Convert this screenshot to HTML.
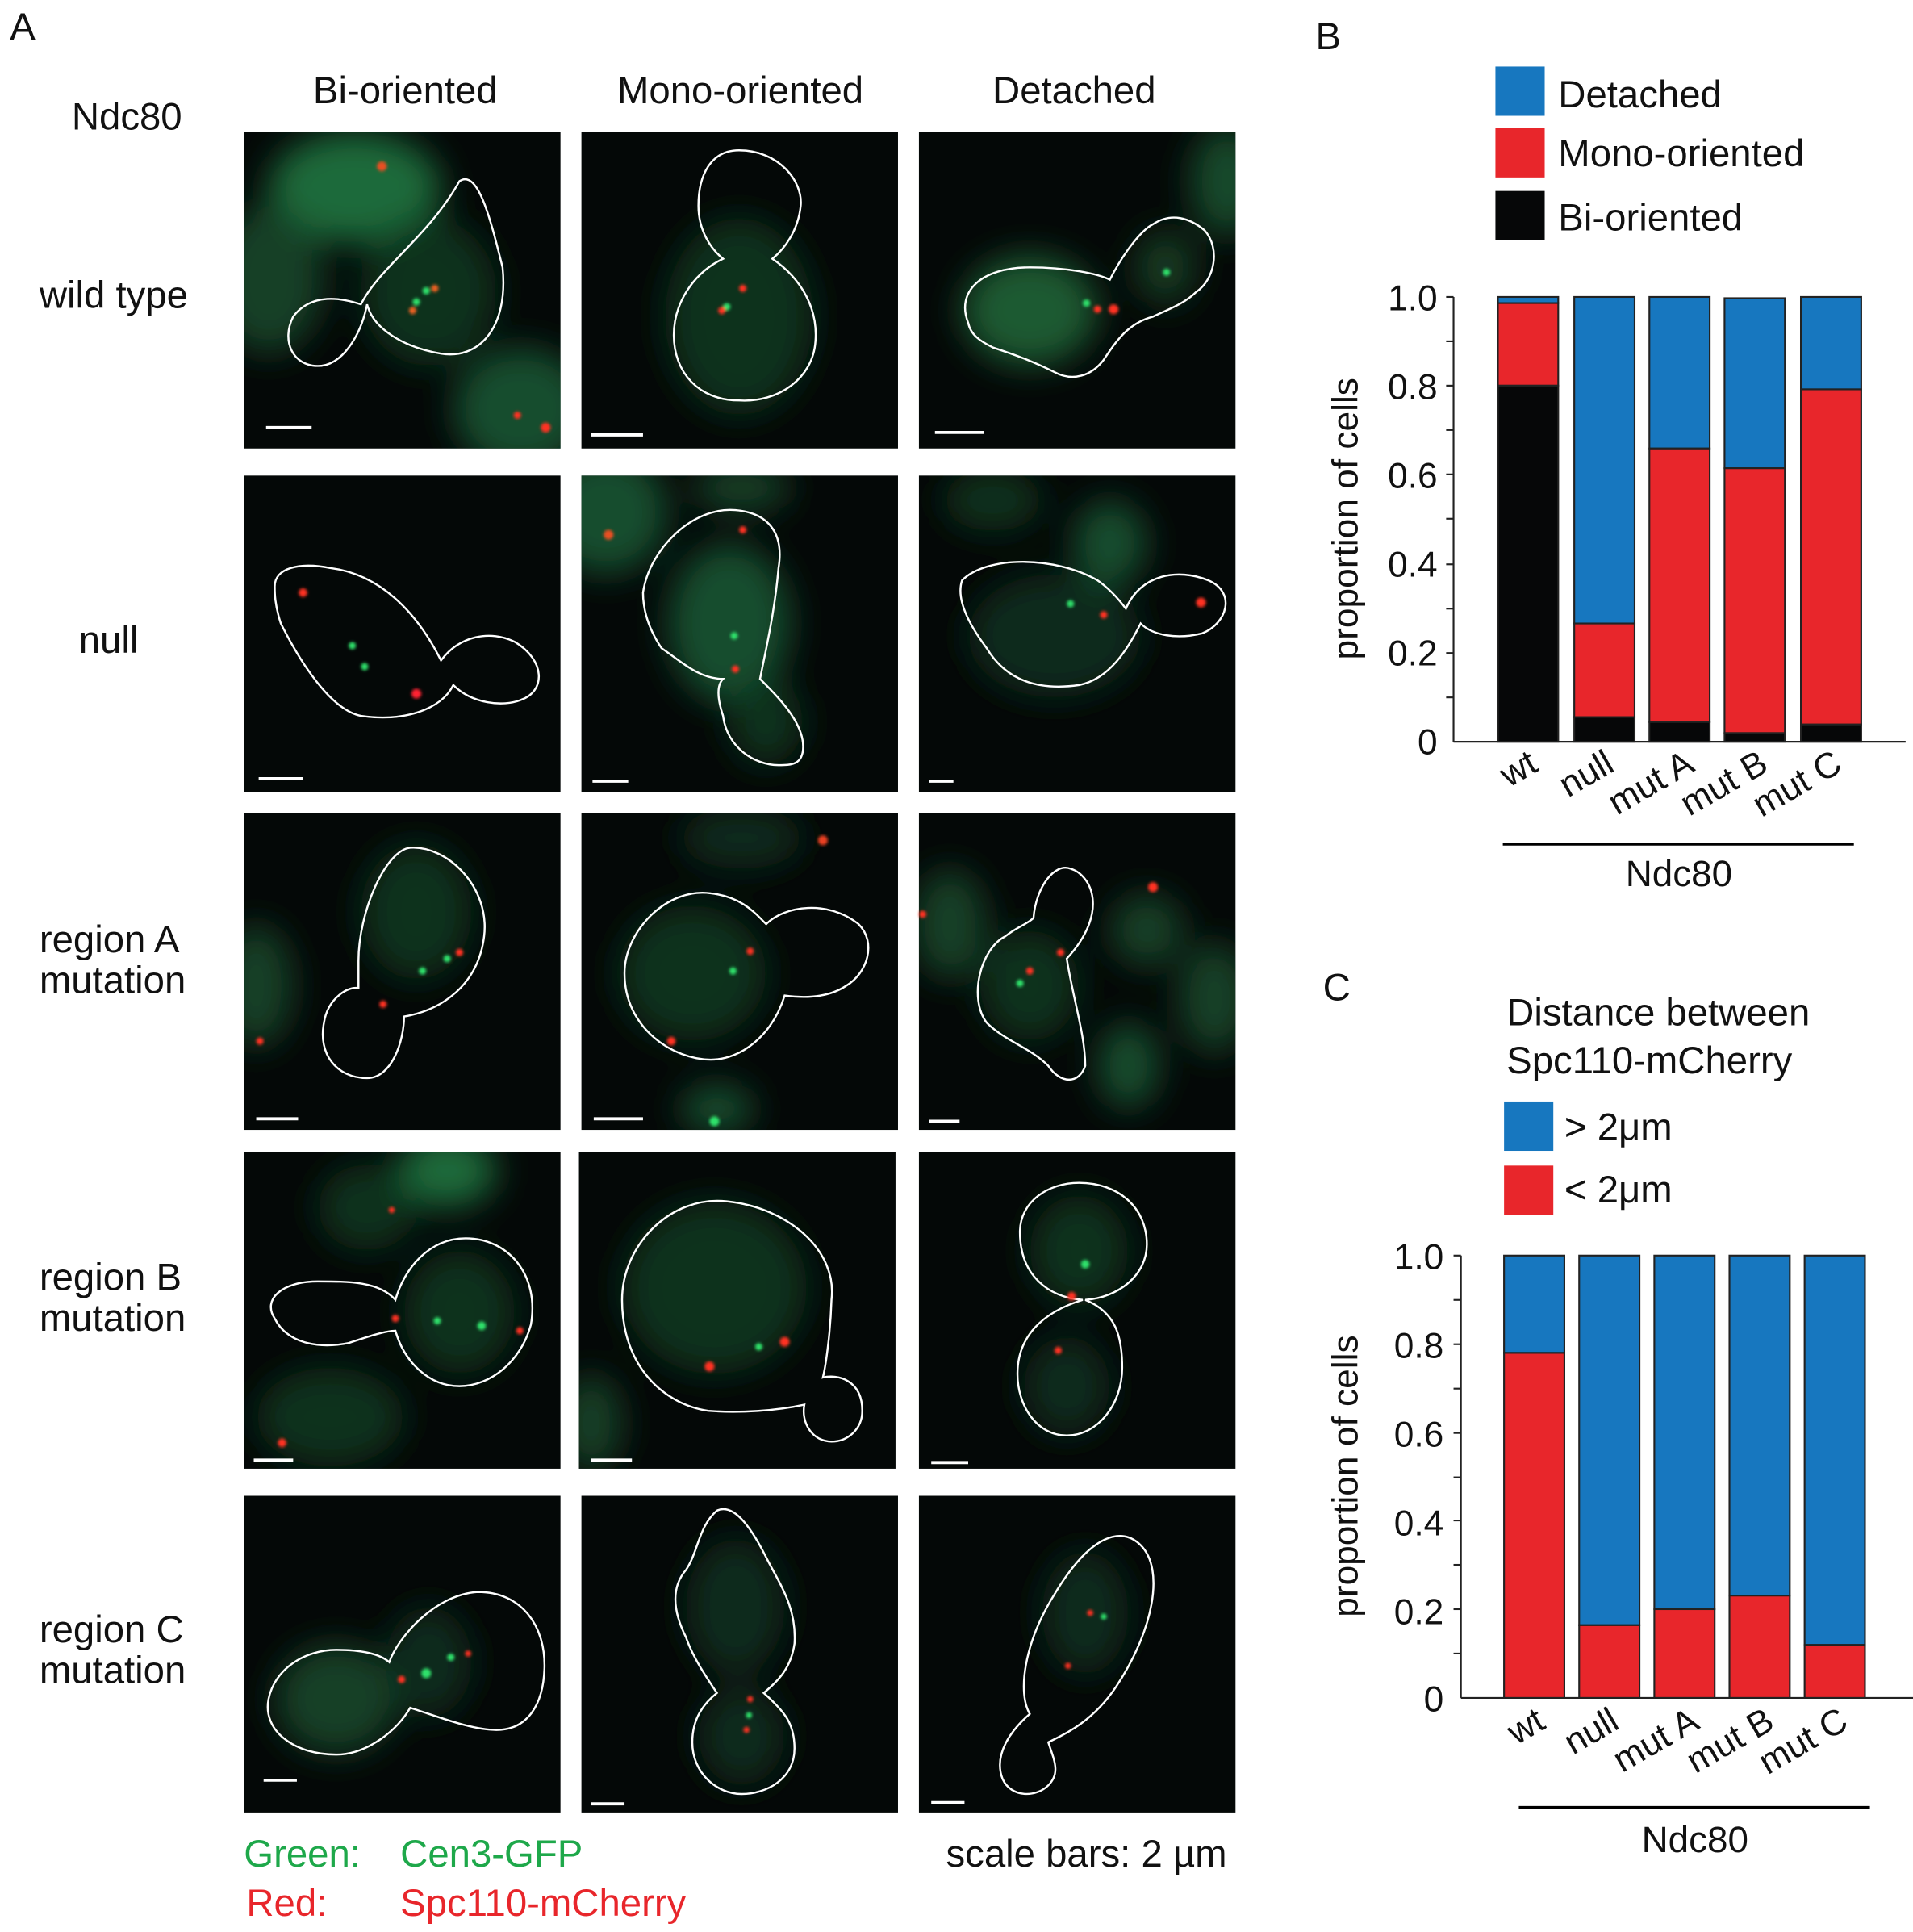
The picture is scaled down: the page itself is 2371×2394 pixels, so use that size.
<!DOCTYPE html>
<html><head><meta charset="utf-8"><style>
html,body{margin:0;padding:0;background:#fff;}
svg{display:block;}
text{font-family:"Liberation Sans",Arial,sans-serif;}
</style></head><body>
<svg width="2371" height="2394" viewBox="0 0 1553 1568" preserveAspectRatio="none" xmlns="http://www.w3.org/2000/svg">
<defs>
<filter id="b" x="-50%" y="-50%" width="200%" height="200%"><feGaussianBlur stdDeviation="14"/></filter>
<filter id="d" x="-100%" y="-100%" width="300%" height="300%"><feGaussianBlur stdDeviation="1.2"/></filter>
<clipPath id="c"><rect width="257" height="257"/></clipPath>
</defs>
<rect width="1553" height="1568" fill="#fff"/>
<g font-size="31" fill="#111">
<text x="8" y="32">A</text>
<text x="329" y="84" text-anchor="middle">Bi-oriented</text>
<text x="601" y="84" text-anchor="middle">Mono-oriented</text>
<text x="872" y="84" text-anchor="middle">Detached</text>
<text x="103" y="105" text-anchor="middle">Ndc80</text>
<text x="32" y="250">wild type</text>
<text x="64" y="530">null</text>
<text x="32" y="773">region A</text><text x="32" y="806">mutation</text>
<text x="32" y="1047">region B</text><text x="32" y="1080">mutation</text>
<text x="32" y="1333">region C</text><text x="32" y="1366">mutation</text>
<text x="198" y="1515" fill="#1ea84a">Green:</text>
<text x="325" y="1515" fill="#1ea84a">Cen3-GFP</text>
<text x="200" y="1555" fill="#e8262b">Red:</text>
<text x="325" y="1555" fill="#e8262b">Spc110-mCherry</text>
<text x="768" y="1515">scale bars: 2 µm</text>
</g>
<g fill="none" stroke="#fff" stroke-width="1.6">
<!-- Row1 -->
<g transform="translate(198,107)"><rect width="257" height="257" fill="#040807" stroke="none"/>
<g clip-path="url(#c)"><g filter="url(#b)" stroke="none"><ellipse cx="90" cy="45" rx="70" ry="45" fill="#1f6a3a"/><ellipse cx="20" cy="120" rx="45" ry="60" fill="#143f26"/><ellipse cx="225" cy="225" rx="55" ry="50" fill="#174d2d"/><ellipse cx="150" cy="130" rx="55" ry="60" fill="#10301d"/></g></g>
<path d="M95,140 C110,110 150,85 175,40 C190,30 200,70 210,110 C215,160 190,185 160,180 C130,175 105,160 100,140 C95,165 80,190 60,190 C40,190 30,170 40,150 C55,130 80,135 95,140Z"/>
<g stroke="none" filter="url(#d)"><circle cx="112" cy="28" r="4" fill="#e85020"/><circle cx="148" cy="129" r="3" fill="#2ee06a"/><circle cx="140" cy="138" r="3" fill="#2ee06a"/><circle cx="155" cy="127" r="3" fill="#e86020"/><circle cx="137" cy="145" r="3" fill="#e86020"/><circle cx="245" cy="240" r="4" fill="#ff3020"/><circle cx="222" cy="230" r="3" fill="#ff3020"/></g>
<line x1="18" y1="240" x2="55" y2="240" stroke-width="2.5"/></g>
<g transform="translate(472,107)"><rect width="257" height="257" fill="#040807" stroke="none"/>
<g clip-path="url(#c)"><g filter="url(#b)" stroke="none"><ellipse cx="128" cy="150" rx="60" ry="80" fill="#10301d"/></g></g>
<path d="M128,15 C160,15 180,40 178,60 C176,80 165,95 155,103 C180,120 192,145 190,170 C188,200 160,220 128,218 C95,218 75,195 75,165 C75,140 90,115 115,103 C105,95 95,80 95,60 C95,35 105,15 128,15Z"/>
<g stroke="none" filter="url(#d)"><circle cx="131" cy="127" r="3" fill="#ff3020"/><circle cx="118" cy="142" r="3" fill="#2ee06a"/><circle cx="114" cy="145" r="3" fill="#ff3020"/></g>
<line x1="8" y1="246" x2="50" y2="246" stroke-width="2.5"/></g>
<g transform="translate(746,107)"><rect width="257" height="257" fill="#040807" stroke="none"/>
<g clip-path="url(#c)"><g filter="url(#b)" stroke="none"><ellipse cx="90" cy="145" rx="55" ry="45" fill="#1a5a33"/><ellipse cx="250" cy="40" rx="30" ry="45" fill="#154a2a"/><ellipse cx="200" cy="110" rx="25" ry="30" fill="#123a22"/></g></g>
<path d="M40,155 C30,130 50,110 90,110 C120,110 145,115 155,120 C165,100 180,80 190,75 C205,65 220,70 232,80 C245,95 240,120 225,130 C215,140 200,145 190,150 C170,155 160,170 150,185 C140,198 125,203 110,195 C90,185 75,180 60,175 C50,170 42,165 40,155Z"/>
<g stroke="none" filter="url(#d)"><circle cx="201" cy="114" r="3" fill="#2ee06a"/><circle cx="136" cy="139" r="3" fill="#2ee06a"/><circle cx="145" cy="144" r="3" fill="#ff3020"/><circle cx="158" cy="144" r="4" fill="#ff3020"/></g>
<line x1="13" y1="244" x2="53" y2="244" stroke-width="2.5"/></g>
<!-- Row2 -->
<g transform="translate(198,386)"><rect width="257" height="257" fill="#040807" stroke="none"/>
<path d="M25,90 C25,75 45,70 70,75 C110,80 140,110 160,150 C175,130 200,125 220,135 C245,150 245,175 225,182 C210,188 185,185 170,170 C160,190 130,200 95,195 C70,190 45,150 30,120 C25,105 25,95 25,90Z"/>
<g stroke="none" filter="url(#d)"><circle cx="48" cy="95" r="3.5" fill="#ff3020"/><circle cx="88" cy="138" r="3" fill="#2ee06a"/><circle cx="98" cy="155" r="3" fill="#2ee06a"/><circle cx="140" cy="177" r="4" fill="#ff2030"/></g>
<line x1="12" y1="246" x2="48" y2="246" stroke-width="2.5"/></g>
<g transform="translate(472,386)"><rect width="257" height="257" fill="#040807" stroke="none"/>
<g clip-path="url(#c)"><g filter="url(#b)" stroke="none"><ellipse cx="20" cy="30" rx="50" ry="50" fill="#174d2d"/><ellipse cx="120" cy="120" rx="50" ry="65" fill="#174d2d"/><ellipse cx="150" cy="200" rx="30" ry="35" fill="#10301d"/><ellipse cx="130" cy="10" rx="40" ry="20" fill="#143f26"/></g></g>
<path d="M50,95 C55,60 90,25 125,28 C150,30 165,45 160,75 C157,110 150,140 145,165 C160,180 180,200 180,220 C180,235 170,235 160,235 C140,235 118,220 115,195 C110,180 110,170 115,165 C95,165 80,150 65,140 C55,125 50,110 50,95Z"/>
<g stroke="none" filter="url(#d)"><circle cx="22" cy="48" r="4" fill="#e85020"/><circle cx="131" cy="44" r="3" fill="#ff3020"/><circle cx="124" cy="130" r="3" fill="#2ee06a"/><circle cx="125" cy="157" r="3" fill="#ff3020"/></g>
<line x1="9" y1="248" x2="38" y2="248" stroke-width="2.5"/></g>
<g transform="translate(746,386)"><rect width="257" height="257" fill="#040807" stroke="none"/>
<g clip-path="url(#c)"><g filter="url(#b)" stroke="none"><ellipse cx="155" cy="55" rx="30" ry="35" fill="#174d2d"/><ellipse cx="60" cy="20" rx="40" ry="25" fill="#10301d"/><ellipse cx="110" cy="130" rx="70" ry="50" fill="#0e2a1a"/></g></g>
<path d="M35,85 C55,65 110,65 145,85 C155,92 162,100 168,108 C180,80 210,75 235,85 C258,95 250,120 230,128 C210,133 190,130 180,120 C170,140 155,165 130,170 C95,175 70,165 55,140 C40,120 30,100 35,85Z"/>
<g stroke="none" filter="url(#d)"><circle cx="123" cy="104" r="3" fill="#2ee06a"/><circle cx="150" cy="113" r="3" fill="#ff3020"/><circle cx="229" cy="103" r="4" fill="#ff3020"/></g>
<line x1="8" y1="248" x2="28" y2="248" stroke-width="2.5"/></g>
<!-- Row3 -->
<g transform="translate(198,660)"><rect width="257" height="257" fill="#040807" stroke="none"/>
<g clip-path="url(#c)"><g filter="url(#b)" stroke="none"><ellipse cx="10" cy="140" rx="30" ry="50" fill="#143f26"/><ellipse cx="140" cy="80" rx="45" ry="55" fill="#10301d"/></g></g>
<path d="M93,120 C93,80 115,30 135,28 C165,26 200,60 195,100 C190,140 160,160 130,165 C130,185 120,215 100,215 C75,215 60,195 65,170 C68,150 85,140 93,142Z"/>
<g stroke="none" filter="url(#d)"><circle cx="175" cy="113" r="3" fill="#ff3020"/><circle cx="165" cy="118" r="3" fill="#2ee06a"/><circle cx="145" cy="128" r="3" fill="#2ee06a"/><circle cx="113" cy="155" r="3" fill="#ff3020"/><circle cx="13" cy="185" r="3" fill="#ff3020"/></g>
<line x1="10" y1="248" x2="44" y2="248" stroke-width="2.5"/></g>
<g transform="translate(472,660)"><rect width="257" height="257" fill="#040807" stroke="none"/>
<g clip-path="url(#c)"><g filter="url(#b)" stroke="none"><ellipse cx="90" cy="130" rx="60" ry="55" fill="#10301d"/><ellipse cx="110" cy="240" rx="30" ry="20" fill="#174d2d"/><ellipse cx="130" cy="20" rx="50" ry="25" fill="#0e2a1a"/></g></g>
<path d="M35,130 C35,95 70,60 105,65 C130,68 140,80 150,90 C165,75 200,70 225,90 C240,105 232,130 215,140 C200,150 180,150 165,148 C155,180 130,200 105,200 C75,200 35,175 35,130Z"/>
<g stroke="none" filter="url(#d)"><circle cx="196" cy="22" r="4" fill="#e84020"/><circle cx="137" cy="112" r="3" fill="#ff3020"/><circle cx="123" cy="128" r="3" fill="#2ee06a"/><circle cx="73" cy="185" r="3.5" fill="#ff3020"/><circle cx="108" cy="250" r="4" fill="#2ee06a"/></g>
<line x1="10" y1="248" x2="50" y2="248" stroke-width="2.5"/></g>
<g transform="translate(746,660)"><rect width="257" height="257" fill="#040807" stroke="none"/>
<g clip-path="url(#c)"><g filter="url(#b)" stroke="none"><ellipse cx="25" cy="90" rx="30" ry="45" fill="#143f26"/><ellipse cx="185" cy="95" rx="30" ry="30" fill="#143f26"/><ellipse cx="240" cy="150" rx="30" ry="45" fill="#143f26"/><ellipse cx="170" cy="205" rx="25" ry="35" fill="#174d2d"/><ellipse cx="90" cy="140" rx="40" ry="45" fill="#10301d"/></g></g>
<path d="M93,85 C95,60 110,40 123,45 C140,50 155,80 120,118 C125,150 135,180 135,205 C130,220 115,220 105,205 C90,190 70,185 55,170 C40,150 50,110 70,100 C80,92 88,90 93,85Z"/>
<g stroke="none" filter="url(#d)"><circle cx="190" cy="60" r="4" fill="#ff3020"/><circle cx="115" cy="113" r="3" fill="#ff3020"/><circle cx="90" cy="128" r="3" fill="#ff3020"/><circle cx="82" cy="138" r="3" fill="#2ee06a"/><circle cx="3" cy="82" r="3" fill="#ff3020"/></g>
<line x1="8" y1="250" x2="33" y2="250" stroke-width="2.5"/></g>
<!-- Row4 -->
<g transform="translate(198,935)"><rect width="257" height="257" fill="#040807" stroke="none"/>
<g clip-path="url(#c)"><g filter="url(#b)" stroke="none"><ellipse cx="165" cy="15" rx="40" ry="30" fill="#1f6a3a"/><ellipse cx="100" cy="45" rx="40" ry="35" fill="#10301d"/><ellipse cx="70" cy="215" rx="60" ry="40" fill="#10301d"/><ellipse cx="175" cy="130" rx="45" ry="50" fill="#10301d"/></g></g>
<path d="M123,120 C110,105 85,105 60,105 C30,105 15,120 25,135 C35,155 60,160 85,155 C100,150 115,145 123,145 C130,170 150,190 175,190 C200,190 225,170 233,140 C240,100 215,70 180,70 C150,70 130,95 123,120Z"/>
<g stroke="none" filter="url(#d)"><circle cx="123" cy="135" r="3" fill="#ff3020"/><circle cx="157" cy="137" r="3" fill="#2ee06a"/><circle cx="193" cy="141" r="3.5" fill="#2ee06a"/><circle cx="224" cy="145" r="3" fill="#ff3020"/><circle cx="120" cy="47" r="2.5" fill="#ff3020"/><circle cx="31" cy="236" r="3.5" fill="#ff3020"/></g>
<line x1="8" y1="250" x2="40" y2="250" stroke-width="2.5"/></g>
<g transform="translate(470,935)"><rect width="257" height="257" fill="#040807" stroke="none"/>
<g clip-path="url(#c)"><g filter="url(#b)" stroke="none"><ellipse cx="110" cy="110" rx="75" ry="70" fill="#10301d"/><ellipse cx="10" cy="220" rx="25" ry="40" fill="#143f26"/></g></g>
<path d="M35,120 C35,75 75,35 120,40 C170,45 210,80 205,120 C204,150 200,175 198,183 C210,180 230,185 230,210 C230,225 218,235 205,235 C190,235 180,220 183,205 C160,210 130,212 105,210 C70,205 35,175 35,120Z"/>
<g stroke="none" filter="url(#d)"><circle cx="146" cy="158" r="3" fill="#2ee06a"/><circle cx="167" cy="154" r="4" fill="#ff3020"/><circle cx="106" cy="174" r="4" fill="#ff3020"/></g>
<line x1="10" y1="250" x2="43" y2="250" stroke-width="2.5"/></g>
<g transform="translate(746,935)"><rect width="257" height="257" fill="#040807" stroke="none"/>
<g clip-path="url(#c)"><g filter="url(#b)" stroke="none"><ellipse cx="130" cy="80" rx="40" ry="45" fill="#10301d"/><ellipse cx="120" cy="190" rx="35" ry="40" fill="#0e2a1a"/></g></g>
<path d="M133,120 C105,118 82,100 82,65 C82,40 105,25 130,25 C162,25 185,45 185,75 C185,100 162,118 135,120 C160,130 165,150 165,175 C165,205 145,230 120,230 C95,230 80,205 80,180 C80,150 100,130 133,120Z"/>
<g stroke="none" filter="url(#d)"><circle cx="135" cy="91" r="3.5" fill="#2ee06a"/><circle cx="124" cy="117" r="3.5" fill="#ff3020"/><circle cx="113" cy="161" r="3" fill="#ff3020"/></g>
<line x1="10" y1="252" x2="40" y2="252" stroke-width="2.5"/></g>
<!-- Row5 -->
<g transform="translate(198,1214)"><rect width="257" height="257" fill="#040807" stroke="none"/>
<g clip-path="url(#c)"><g filter="url(#b)" stroke="none"><ellipse cx="75" cy="165" rx="50" ry="45" fill="#143f26"/><ellipse cx="150" cy="135" rx="35" ry="45" fill="#0f2a1a"/></g></g>
<path d="M118,135 C125,115 155,80 190,78 C225,78 245,105 244,140 C243,170 230,190 205,190 C185,190 160,180 135,172 C125,190 100,210 75,210 C40,210 15,190 20,165 C25,140 50,125 75,125 C95,125 110,128 118,135Z"/>
<g stroke="none" filter="url(#d)"><circle cx="168" cy="131" r="3" fill="#2ee06a"/><circle cx="182" cy="128" r="2.5" fill="#ff3020"/><circle cx="148" cy="144" r="4" fill="#2ee06a"/><circle cx="128" cy="149" r="3" fill="#ff3020"/></g>
<line x1="16" y1="231" x2="43" y2="231" stroke-width="2"/></g>
<g transform="translate(472,1214)"><rect width="257" height="257" fill="#040807" stroke="none"/>
<g clip-path="url(#c)"><g filter="url(#b)" stroke="none"><ellipse cx="125" cy="90" rx="40" ry="55" fill="#0f2a1a"/><ellipse cx="130" cy="195" rx="35" ry="40" fill="#0e2a1a"/></g></g>
<path d="M110,12 C125,5 140,30 150,50 C160,70 175,90 173,120 C170,140 160,150 148,160 C165,175 173,185 173,205 C173,230 150,242 130,242 C110,242 90,225 90,200 C90,180 100,168 110,160 C100,145 90,130 85,115 C75,95 72,75 85,60 C95,45 95,25 110,12Z"/>
<g stroke="none" filter="url(#d)"><circle cx="137" cy="165" r="2.5" fill="#ff3020"/><circle cx="136" cy="178" r="2.5" fill="#2ee06a"/><circle cx="134" cy="190" r="2.5" fill="#ff3020"/></g>
<line x1="8" y1="250" x2="35" y2="250" stroke-width="2.5"/></g>
<g transform="translate(746,1214)"><rect width="257" height="257" fill="#040807" stroke="none"/>
<g clip-path="url(#c)"><g filter="url(#b)" stroke="none"><ellipse cx="135" cy="95" rx="35" ry="50" fill="#0f2a1a"/></g></g>
<path d="M90,177 C80,160 85,120 110,80 C140,30 165,25 180,40 C200,60 190,110 160,155 C140,185 115,195 105,200 C110,215 115,225 105,235 C95,245 75,245 68,230 C60,210 75,190 90,177Z"/>
<g stroke="none" filter="url(#d)"><circle cx="139" cy="95" r="2.5" fill="#ff3020"/><circle cx="150" cy="98" r="2.5" fill="#2ee06a"/><circle cx="121" cy="138" r="2.5" fill="#ff3020"/></g>
<line x1="10" y1="249" x2="37" y2="249" stroke-width="2.5"/></g>
</g>

<!-- Panel B -->
<g font-size="31" fill="#111">
<text x="1068" y="40">B</text>
<rect x="1214" y="54" width="40" height="40" fill="#1777bf"/><text x="1265" y="87">Detached</text>
<rect x="1214" y="104" width="40" height="40" fill="#e8262b"/><text x="1265" y="135">Mono-oriented</text>
<rect x="1214" y="155" width="40" height="40" fill="#060708"/><text x="1265" y="187">Bi-oriented</text>
<g font-size="29" text-anchor="end">
<text x="1167" y="252">1.0</text><text x="1167" y="324">0.8</text><text x="1167" y="396">0.6</text><text x="1167" y="468">0.4</text><text x="1167" y="540">0.2</text><text x="1167" y="612">0</text>
</g>
<text transform="translate(1102,421) rotate(-90)" text-anchor="middle" font-size="29">proportion of cells</text>
</g>
<g stroke="#222" stroke-width="1.4">
<line x1="1180" y1="241" x2="1180" y2="602"/><line x1="1180" y1="602" x2="1547" y2="602"/>
<line x1="1174" y1="241" x2="1180" y2="241"/><line x1="1174" y1="277" x2="1180" y2="277"/><line x1="1174" y1="313" x2="1180" y2="313"/><line x1="1174" y1="349" x2="1180" y2="349"/><line x1="1174" y1="385" x2="1180" y2="385"/><line x1="1174" y1="421" x2="1180" y2="421"/><line x1="1174" y1="458" x2="1180" y2="458"/><line x1="1174" y1="494" x2="1180" y2="494"/><line x1="1174" y1="530" x2="1180" y2="530"/><line x1="1174" y1="566" x2="1180" y2="566"/>
<rect x="1216" y="241" width="49" height="5" fill="#1777bf"/><rect x="1216" y="246" width="49" height="67" fill="#e8262b"/><rect x="1216" y="313" width="49" height="289" fill="#060708"/>
<rect x="1278" y="241" width="49" height="265" fill="#1777bf"/><rect x="1278" y="506" width="49" height="76" fill="#e8262b"/><rect x="1278" y="582" width="49" height="20" fill="#060708"/>
<rect x="1339" y="241" width="49" height="123" fill="#1777bf"/><rect x="1339" y="364" width="49" height="222" fill="#e8262b"/><rect x="1339" y="586" width="49" height="16" fill="#060708"/>
<rect x="1400" y="242" width="49" height="138" fill="#1777bf"/><rect x="1400" y="380" width="49" height="215" fill="#e8262b"/><rect x="1400" y="595" width="49" height="7" fill="#060708"/>
<rect x="1462" y="241" width="49" height="75" fill="#1777bf"/><rect x="1462" y="316" width="49" height="272" fill="#e8262b"/><rect x="1462" y="588" width="49" height="14" fill="#060708"/>
<line x1="1220" y1="685" x2="1505" y2="685" stroke="#000" stroke-width="2.5"/>
</g>
<g font-size="29" fill="#111" text-anchor="end">
<text transform="translate(1250,625) rotate(-30)">wt</text>
<text transform="translate(1312,625) rotate(-30)">null</text>
<text transform="translate(1377,625) rotate(-30)">mut A</text>
<text transform="translate(1437,625) rotate(-30)">mut B</text>
<text transform="translate(1497,625) rotate(-30)">mut C</text>
</g>
<text x="1363" y="719" font-size="30" text-anchor="middle" fill="#111">Ndc80</text>

<!-- Panel C -->
<g font-size="31" fill="#111">
<text x="1074" y="812">C</text>
<text x="1223" y="832">Distance between</text>
<text x="1223" y="871">Spc110-mCherry</text>
<rect x="1221" y="894" width="40" height="40" fill="#1777bf"/><text x="1270" y="925">&gt; 2μm</text>
<rect x="1221" y="946" width="40" height="40" fill="#e8262b"/><text x="1270" y="976">&lt; 2μm</text>
<g font-size="29" text-anchor="end">
<text x="1172" y="1030">1.0</text><text x="1172" y="1102">0.8</text><text x="1172" y="1174">0.6</text><text x="1172" y="1246">0.4</text><text x="1172" y="1318">0.2</text><text x="1172" y="1389">0</text>
</g>
<text transform="translate(1102,1198) rotate(-90)" text-anchor="middle" font-size="29">proportion of cells</text>
</g>
<g stroke="#222" stroke-width="1.4">
<line x1="1186" y1="1019" x2="1186" y2="1378"/><line x1="1186" y1="1378" x2="1553" y2="1378"/>
<line x1="1180" y1="1019" x2="1186" y2="1019"/><line x1="1180" y1="1055" x2="1186" y2="1055"/><line x1="1180" y1="1091" x2="1186" y2="1091"/><line x1="1180" y1="1127" x2="1186" y2="1127"/><line x1="1180" y1="1163" x2="1186" y2="1163"/><line x1="1180" y1="1199" x2="1186" y2="1199"/><line x1="1180" y1="1234" x2="1186" y2="1234"/><line x1="1180" y1="1270" x2="1186" y2="1270"/><line x1="1180" y1="1306" x2="1186" y2="1306"/><line x1="1180" y1="1342" x2="1186" y2="1342"/>
<rect x="1221" y="1019" width="49" height="79" fill="#1777bf"/><rect x="1221" y="1098" width="49" height="280" fill="#e8262b"/>
<rect x="1282" y="1019" width="49" height="300" fill="#1777bf"/><rect x="1282" y="1319" width="49" height="59" fill="#e8262b"/>
<rect x="1343" y="1019" width="49" height="287" fill="#1777bf"/><rect x="1343" y="1306" width="49" height="72" fill="#e8262b"/>
<rect x="1404" y="1019" width="49" height="276" fill="#1777bf"/><rect x="1404" y="1295" width="49" height="83" fill="#e8262b"/>
<rect x="1465" y="1019" width="49" height="316" fill="#1777bf"/><rect x="1465" y="1335" width="49" height="43" fill="#e8262b"/>
<line x1="1233" y1="1467" x2="1518" y2="1467" stroke="#000" stroke-width="2.5"/>
</g>
<g font-size="29" fill="#111" text-anchor="end">
<text transform="translate(1256,1402) rotate(-30)">wt</text>
<text transform="translate(1316,1402) rotate(-30)">null</text>
<text transform="translate(1381,1402) rotate(-30)">mut A</text>
<text transform="translate(1442,1402) rotate(-30)">mut B</text>
<text transform="translate(1502,1402) rotate(-30)">mut C</text>
</g>
<text x="1376" y="1503" font-size="30" text-anchor="middle" fill="#111">Ndc80</text>
</svg>
</body></html>
